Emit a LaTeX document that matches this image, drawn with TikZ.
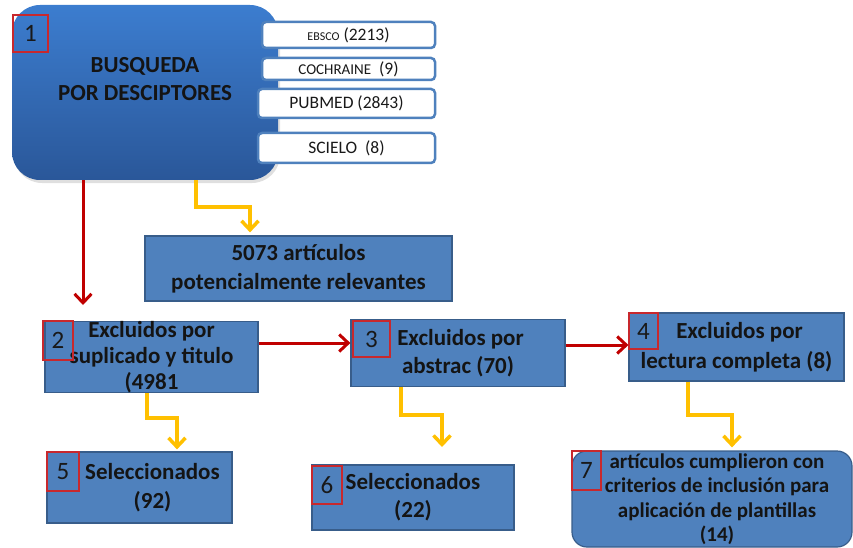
\documentclass[tikz,border=0pt]{standalone}
\usepackage{fontspec}
\setmainfont{Carlito}
\usetikzlibrary{arrows.meta,shadows}
\definecolor{boxblue}{HTML}{4F81BD}
\definecolor{boxedge}{HTML}{385D8A}
\definecolor{topblue}{HTML}{3C7DCF}
\definecolor{botblue}{HTML}{2A5799}
\definecolor{redline}{HTML}{C00000}
\definecolor{numred}{HTML}{C8282D}
\definecolor{goldline}{HTML}{FFC000}
\begin{document}
\begin{tikzpicture}[x=1pt,y=-1pt,
 bigbox/.style={draw=none, top color=topblue, bottom color=botblue, rounded corners=28pt, inner sep=0pt,
   drop shadow={opacity=0.25, shadow xshift=2pt, shadow yshift=-3pt}},
 bluebox/.style={draw=boxedge, line width=1.2pt, fill=boxblue, inner sep=0pt, align=center, text=black!92},
 dbbox/.style={draw=boxblue, line width=2.5pt, fill=white, rounded corners=4pt, inner sep=0pt,
   font=\fontsize{17.5}{20}\selectfont, text=black!90},
 numbox/.style={draw=numred, line width=1.2pt, inner sep=0pt, font=\fontsize{25}{25}\selectfont, text=black!90},
 redarrow/.style={draw=redline, line width=3pt, -{Straight Barb[length=9pt,width=17pt]}},
 goldarrow/.style={draw=goldline, line width=3.5pt, -{Straight Barb[length=9pt,width=17pt]}},
]
\useasboundingbox (0,0) rectangle (853,548);

% main search box
\node[bigbox, minimum width=266pt, minimum height=175pt] (b1) at (145,92.5) {};
\node[font=\bfseries\fontsize{23}{28}\selectfont, align=center, text=black!92] (b1t) at (145,79) {BUSQUEDA\\POR DESCIPTORES};
\node[numbox, minimum width=35pt, minimum height=37pt] (n1) at (30.5,33.5) {1};

% databases
\node[dbbox, minimum width=173pt, minimum height=26pt] (db1) at (348.5,35) {{\fontsize{12}{12}\selectfont EBSCO} (2213)};
\node[dbbox, minimum width=173pt, minimum height=22pt] (db2) at (348.5,69) {{\fontsize{15}{15}\selectfont COCHRAINE}\ \ (9)};
\node[dbbox, minimum width=177pt, minimum height=29pt] (db3) at (346.5,103.5) {PUBMED (2843)};
\node[dbbox, minimum width=177pt, minimum height=30pt] (db4) at (346.5,148) {SCIELO\ \ (8)};

% blue boxes
\node[bluebox, minimum width=307pt, minimum height=65pt, font=\bfseries\fontsize{23}{29}\selectfont] (b0) at (298.5,268.5) {5073 artículos\\potencialmente relevantes};
\node[bluebox, minimum width=213pt, minimum height=68pt, font=\bfseries\fontsize{23}{26}\selectfont] (b2) at (151.5,357) {Excluidos por\\suplicado y titulo\\(4981};
\node[bluebox, minimum width=214pt, minimum height=67pt, font=\bfseries\fontsize{23}{28}\selectfont] (b3) at (458,353) {\hspace*{5pt}Excluidos por\\abstrac (70)};
\node[bluebox, minimum width=215pt, minimum height=68pt, font=\bfseries\fontsize{23}{30}\selectfont] (b4) at (736.5,347) {\hspace*{6pt}Excluidos por\\lectura completa (8)};
\node[bluebox, minimum width=185pt, minimum height=71pt, font=\bfseries\fontsize{23}{29}\selectfont] (b5) at (139.5,487.5) {\hspace*{26pt}Seleccionados\\\hspace*{26pt}(92)};
\node[bluebox, minimum width=202pt, minimum height=65pt, font=\bfseries\fontsize{23}{28}\selectfont] (b6) at (413,497.5) {Seleccionados\\(22)};
\node[bluebox, rounded corners=15pt, minimum width=280pt, minimum height=96pt, font=\bfseries\fontsize{21}{24.5}\selectfont] (b7) at (712,499) {\hspace*{10pt}artículos cumplieron con\\\hspace*{10pt}criterios de inclusión para\\\hspace*{10pt}aplicación de plantillas\\\hspace*{10pt}(14)};

% number boxes
\node[numbox, minimum width=30pt, minimum height=39pt] (n2) at (58,340.5) {2};
\node[numbox, minimum width=37pt, minimum height=36pt] (n3) at (371.5,339) {3};
\node[numbox, minimum width=29pt, minimum height=36pt] (n4) at (643.5,331) {4};
\node[numbox, minimum width=32pt, minimum height=39pt] (n5) at (63,471.5) {5};
\node[numbox, minimum width=30pt, minimum height=38pt] (n6) at (327,485) {6};
\node[numbox, minimum width=29pt, minimum height=39pt] (n7) at (586.5,470.5) {7};

% connectors
\coordinate (r1e) at (83,305);
\draw[redarrow] (b1.south -| r1e) -- (r1e);
\coordinate (y1s) at (196,0);
\coordinate (y1b) at (250,207);
\draw[goldarrow, shorten >=3pt] (b1.south -| y1s) |- (y1b) -- (b0.north -| y1b);

\coordinate (r2) at (0,343);
\draw[redarrow] (b2.east |- r2) -- (b3.west |- r2);
\coordinate (r3) at (0,345);
\draw[redarrow] (b3.east |- r3) -- (b4.west |- r3);

\coordinate (y2s) at (147,0);
\coordinate (y2b) at (177,418);
\draw[goldarrow, shorten >=2pt] (b2.south -| y2s) |- (y2b) -- (b5.north -| y2b);
\coordinate (y3s) at (401,0);
\coordinate (y3b) at (442,415);
\coordinate (y3e) at (442,447);
\draw[goldarrow] (b3.south -| y3s) |- (y3b) -- (y3e);
\coordinate (y4s) at (688,0);
\coordinate (y4b) at (732,415);
\draw[goldarrow, shorten >=3pt] (b4.south -| y4s) |- (y4b) -- (b7.north -| y4b);
\end{tikzpicture}
\end{document}
